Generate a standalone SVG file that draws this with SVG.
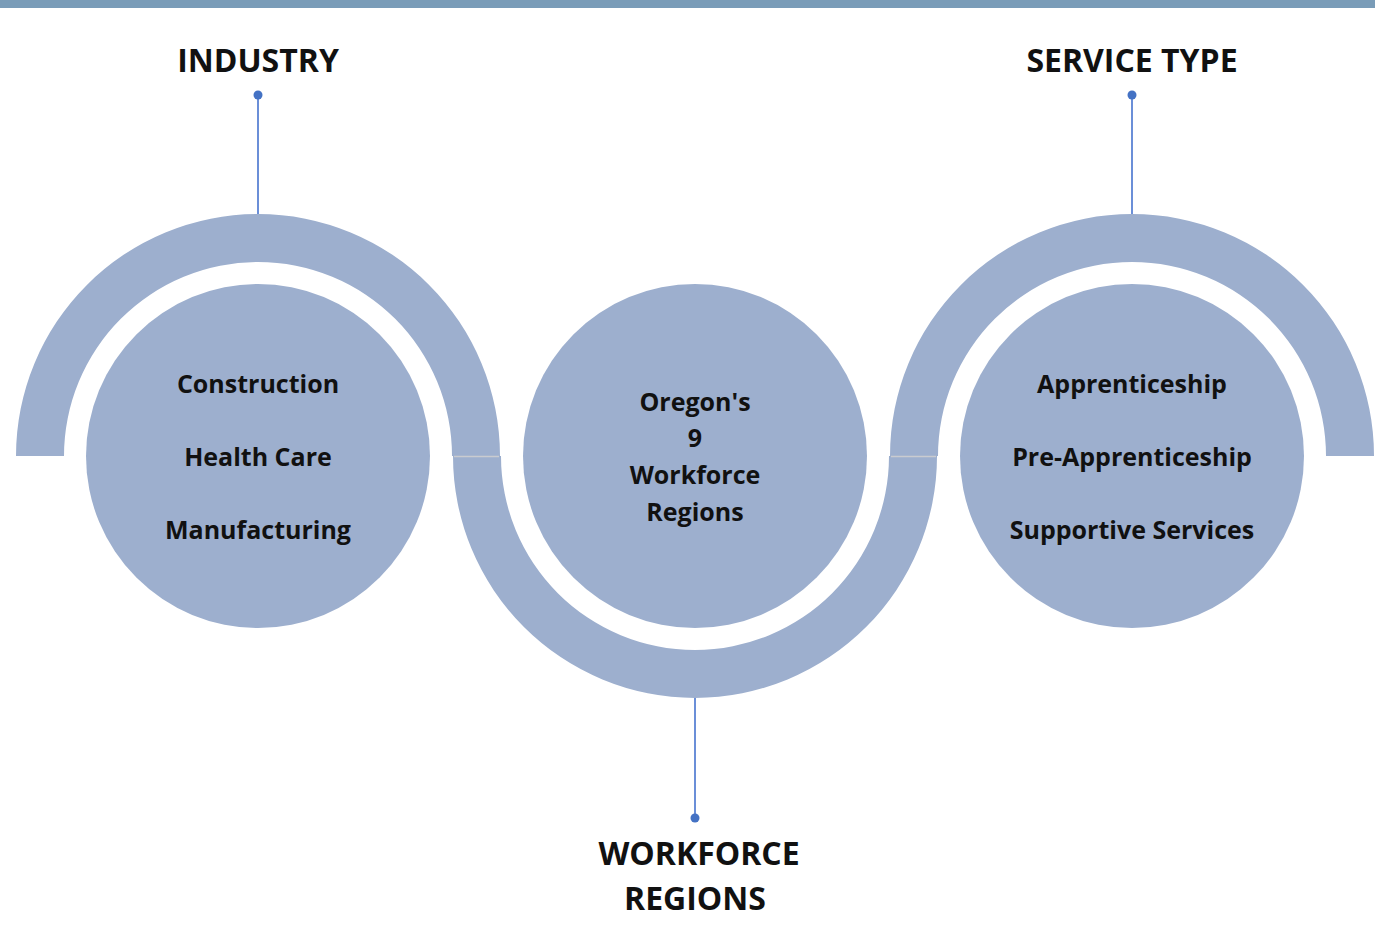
<svg xmlns="http://www.w3.org/2000/svg" width="1375" height="951" viewBox="0 0 1375 951">
<defs>
<style>
.band{fill:#9DAFCE;}
.node{fill:#9DAFCE;}
.conn{stroke:#6B8FD8;stroke-width:2;fill:none;}
.dot{fill:#4472C4;}
.seam{stroke:#C9CBD0;stroke-width:1.5;}
.title{font-family:"Open Sans","Liberation Sans",sans-serif;font-weight:bold;font-size:32px;fill:#111;text-anchor:middle;}
.lbl{font-family:"Open Sans","Liberation Sans",sans-serif;font-weight:bold;font-size:25px;fill:#111;text-anchor:middle;}
</style>
</defs>
<rect x="0" y="0" width="1375" height="951" fill="#FFFFFF"/>
<rect x="0" y="0" width="1375" height="8" fill="#7A9CB8"/>
<g id="bands">
<path class="band" d="M16 456 A242 242 0 0 1 500 456 L452 456 A194 194 0 0 0 64 456 Z"/>
<path class="band" d="M453 456 A242 242 0 0 0 937 456 L889 456 A194 194 0 0 1 501 456 Z"/>
<path class="band" d="M890 456 A242 242 0 0 1 1374 456 L1326 456 A194 194 0 0 0 938 456 Z"/>
<line class="seam" x1="454" y1="456.5" x2="499" y2="456.5"/>
<line class="seam" x1="891" y1="456.5" x2="936" y2="456.5"/>
</g>
<g id="connectors">
<line class="conn" x1="258" y1="95" x2="258" y2="214"/>
<circle class="dot" cx="258" cy="95" r="4.5"/>
<line class="conn" x1="1132" y1="95" x2="1132" y2="214"/>
<circle class="dot" cx="1132" cy="95" r="4.5"/>
<line class="conn" x1="695" y1="698" x2="695" y2="818"/>
<circle class="dot" cx="695" cy="818" r="4.5"/>
</g>
<g id="industry">
<circle class="node" cx="258" cy="456" r="172"/>
<text class="lbl" x="258" y="393">Construction</text>
<text class="lbl" x="258" y="466">Health Care</text>
<text class="lbl" x="258" y="539">Manufacturing</text>
</g>
<g id="regions">
<circle class="node" cx="695" cy="456" r="172"/>
<text class="lbl" x="695" y="411">Oregon's</text>
<text class="lbl" x="695" y="447">9</text>
<text class="lbl" x="695" y="484">Workforce</text>
<text class="lbl" x="695" y="521">Regions</text>
</g>
<g id="service">
<circle class="node" cx="1132" cy="456" r="172"/>
<text class="lbl" x="1132" y="393">Apprenticeship</text>
<text class="lbl" x="1132" y="466">Pre-Apprenticeship</text>
<text class="lbl" x="1132" y="539">Supportive Services</text>
</g>
<g id="title-industry"><text class="title" x="258" y="72">INDUSTRY</text></g>
<g id="title-service"><text class="title" x="1132" y="72">SERVICE TYPE</text></g>
<g id="title-regions">
<text class="title" x="699" y="865">WORKFORCE</text>
<text class="title" x="695" y="910">REGIONS</text>
</g>
</svg>
